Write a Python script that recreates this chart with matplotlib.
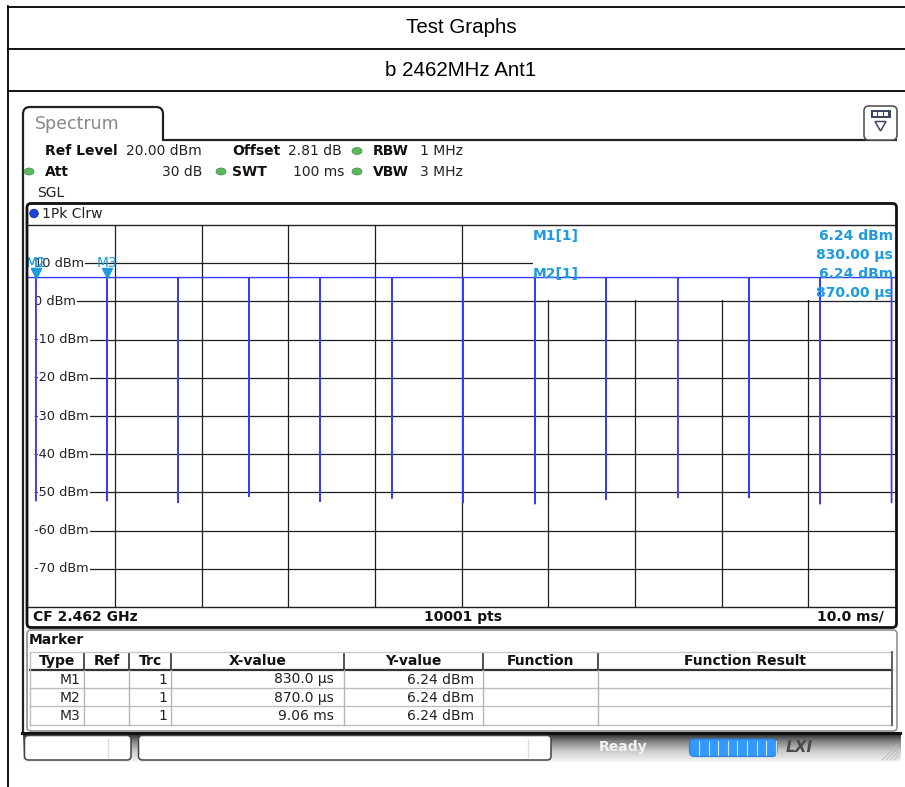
import numpy as np
import matplotlib
matplotlib.use('Agg')
import matplotlib.pyplot as plt
from matplotlib.patches import Rectangle, FancyBboxPatch, Ellipse, Circle, Polygon, PathPatch
from matplotlib.path import Path
from matplotlib.colors import LinearSegmentedColormap

# ---------------- data ----------------
title_text = "Test Graphs"
subtitle_text = "b 2462MHz Ant1"

trace_level_dbm = 6.24
spike_times_ms = [0.85, 9.06, 17.27, 25.46, 33.66, 41.95, 50.15, 58.44, 66.64, 74.93, 83.13, 91.33, 99.60]
spike_min_dbm = [-52.3, -52.3, -52.8, -51.2, -52.5, -51.6, -52.8, -53.1, -52.0, -51.5, -51.5, -53.1, -52.8]

marker_names = ["M1", "M2", "M3"]
marker_x_ms = [0.83, 0.87, 9.06]
marker_y_dbm = [6.24, 6.24, 6.24]
marker_x_text = ["830.0 µs", "870.0 µs", "9.06 ms"]
marker_y_text = ["6.24 dBm", "6.24 dBm", "6.24 dBm"]
marker_trc = ["1", "1", "1"]

y_tick_values = [10, 0, -10, -20, -30, -40, -50, -60, -70]
x_grid_ms = [10, 20, 30, 40, 50, 60, 70, 80, 90]
x_span_ms = (0, 100)
y_span_dbm = (-80, 20)

table_headers = ["Type", "Ref", "Trc", "X-value", "Y-value", "Function", "Function Result"]

# ---------------- figure ----------------
W, H = 905, 787
fig = plt.figure(figsize=(W / 100, H / 100), dpi=100)
fig.patch.set_facecolor('white')

ax_bg = fig.add_axes([0, 0, 1, 1], zorder=0)
ax_bg.set_xlim(0, W); ax_bg.set_ylim(H, 0); ax_bg.axis('off')

px_l, px_r, px_t, px_b = 28.4, 895.0, 225.0, 607.0
ax = fig.add_axes([px_l / W, (H - px_b) / H, (px_r - px_l) / W, (px_b - px_t) / H], zorder=1)

ax_fg = fig.add_axes([0, 0, 1, 1], zorder=2)
ax_fg.set_xlim(0, W); ax_fg.set_ylim(H, 0); ax_fg.axis('off')
ax_fg.patch.set_alpha(0)

MC = '#1e9be0'   # marker colour
TC = '#3a3aff'   # trace colour


def T(a, x, y, s, **kw):
    kw.setdefault('va', 'center')
    kw.setdefault('fontsize', 10)
    kw.setdefault('color', '#111111')
    return a.text(x, y, s, **kw)


# ---------------- outer document table ----------------
for yy in [6.5, 48.5, 90.5]:
    ax_bg.plot([7, 905], [yy, yy], color='black', lw=1.3, solid_capstyle='butt')
ax_bg.plot([7.5, 7.5], [6, 787], color='black', lw=1.3)
T(ax_bg, 461, 27.5, title_text, ha='center', fontsize=14.8, family='Liberation Sans', color='black')
T(ax_bg, 461, 70, subtitle_text, ha='center', fontsize=14.8, family='Liberation Sans', color='black')

# ---------------- window / tab ----------------
r = 7
verts = [(23, 732), (23, 107 + r), (23, 107), (23 + r, 107), (163 - r, 107), (163, 107), (163, 107 + r),
         (163, 140), (897, 140)]
codes = [Path.MOVETO, Path.LINETO, Path.CURVE3, Path.CURVE3, Path.LINETO, Path.CURVE3, Path.CURVE3,
         Path.LINETO, Path.LINETO]
ax_bg.add_patch(PathPatch(Path(verts, codes), fc='none', ec='#222222', lw=1.6))
T(ax_bg, 35, 124, "Spectrum", ha='left', fontsize=12.5, color='#888888')

# icon top right
ax_bg.add_patch(FancyBboxPatch((864, 106), 33, 34, boxstyle='round,pad=0,rounding_size=5',
                               fc='white', ec='#555555', lw=1.2))
ax_bg.add_patch(Rectangle((870.5, 110), 20, 7.5, fc='#3d4660', ec='none'))
for sx in [872.5, 878.3, 884.1]:
    ax_bg.add_patch(Rectangle((sx, 111.8), 4.2, 4, fc='white', ec='none'))
ax_bg.add_patch(Polygon([(875, 121.5), (886, 121.5), (880.5, 131)], closed=True, fc='white', ec='#3d4660', lw=1.1))

# ---------------- header settings ----------------
GREEN = '#5cb85c'
def dot(x, y):
    ax_bg.add_patch(Ellipse((x, y), 10, 7, fc=GREEN, ec='#3f8f3f', lw=0.5))

T(ax_bg, 45, 151, "Ref Level", ha='left', weight='bold')
T(ax_bg, 126, 151, "20.00 dBm", ha='left', color='#222222')
T(ax_bg, 232, 151, "Offset", ha='left', weight='bold')
T(ax_bg, 288, 151, "2.81 dB", ha='left', color='#222222')
dot(357, 151)
T(ax_bg, 373, 151, "RBW", ha='left', weight='bold')
T(ax_bg, 420, 151, "1 MHz", ha='left', color='#222222')

dot(29, 171.5)
T(ax_bg, 45, 171.5, "Att", ha='left', weight='bold')
T(ax_bg, 202, 171.5, "30 dB", ha='right', color='#222222')
dot(221, 171.5)
T(ax_bg, 232, 171.5, "SWT", ha='left', weight='bold')
T(ax_bg, 344, 171.5, "100 ms", ha='right', color='#222222')
dot(357, 171.5)
T(ax_bg, 373, 171.5, "VBW", ha='left', weight='bold')
T(ax_bg, 420, 171.5, "3 MHz", ha='left', color='#222222')

T(ax_bg, 37, 193, "SGL", ha='left', color='#222222')

# ---------------- diagram frame ----------------
ax_fg.add_patch(FancyBboxPatch((27, 203.5), 869.5, 424, boxstyle='round,pad=0,rounding_size=4',
                               fc='none', ec='#111111', lw=2.0))
ax_bg.add_patch(Circle((34, 213.5), 4.3, fc='#1f3fe0', ec='#102090', lw=0.5))
T(ax_bg, 42, 213.5, "1Pk Clrw", ha='left', color='#222222')

T(ax_bg, 33, 617, "CF 2.462 GHz", ha='left', weight='bold')
T(ax_bg, 463, 617, "10001 pts", ha='center', weight='bold')
T(ax_bg, 884, 617, "10.0 ms/", ha='right', weight='bold')

# ---------------- main plot ----------------
ax.set_xlim(*x_span_ms)
ax.set_ylim(*y_span_dbm)
ax.set_xticks([]); ax.set_yticks([])
for s in ['left', 'right']:
    ax.spines[s].set_visible(False)
for s in ['top', 'bottom']:
    ax.spines[s].set_color('#222222'); ax.spines[s].set_linewidth(1.0)

GRIDC = '#1e1e1e'
for xv in x_grid_ms:
    ax.axvline(xv, color=GRIDC, lw=0.9, zorder=1)
ax.hlines(y_tick_values, 0.7, x_span_ms[1], color=GRIDC, lw=0.9, zorder=1)

# marker info box covering the grid in the upper right
ax.add_patch(Rectangle((58.2, 0.35), 41.8, 19.65, fc='white', ec='none', zorder=2))

for yv in y_tick_values:
    ax.text(0.6, yv, f"{yv} dBm", ha='left', va='center', fontsize=9.3, color='#222222', zorder=2.5,
            bbox=dict(boxstyle='square,pad=0.12', fc='white', ec='none'))

# trace
tt = [x_span_ms[0]]
yy = [trace_level_dbm]
for ts, mn in zip(spike_times_ms, spike_min_dbm):
    tt += [ts - 0.01, ts, ts + 0.01]
    yy += [trace_level_dbm, mn, trace_level_dbm]
tt.append(x_span_ms[1]); yy.append(trace_level_dbm)
ax.plot(tt, yy, color=TC, lw=1.0, zorder=3, solid_joinstyle='miter')

# markers
ax.plot(marker_x_ms, marker_y_dbm, linestyle='none', marker='v', markersize=7.5,
        color=MC, markeredgecolor=MC, zorder=4,
        transform=matplotlib.transforms.offset_copy(ax.transData, fig=fig, x=0, y=4.5, units='dots'))
for nm, xv, yv in zip(marker_names, marker_x_ms, marker_y_dbm):
    ax.annotate(nm, (xv, yv), xytext=(0, 15), textcoords='offset pixels', ha='center', va='center',
                fontsize=10, color=MC, zorder=5, annotation_clip=False)

# marker info text
T(ax_fg, 533, 236, f"{marker_names[0]}[1]", ha='left', color=MC, weight='bold')
T(ax_fg, 893, 236, marker_y_text[0], ha='right', color=MC, weight='bold')
T(ax_fg, 893, 254.5, "830.00 µs", ha='right', color=MC, weight='bold')
T(ax_fg, 533, 273.5, f"{marker_names[1]}[1]", ha='left', color=MC, weight='bold')
T(ax_fg, 893, 273.5, marker_y_text[1], ha='right', color=MC, weight='bold')
T(ax_fg, 893, 292.5, "870.00 µs", ha='right', color=MC, weight='bold')

# ---------------- marker table ----------------
ax_bg.add_patch(FancyBboxPatch((27, 630), 870, 101, boxstyle='round,pad=0,rounding_size=4',
                               fc='white', ec='#9a9a9a', lw=1.3))
T(ax_bg, 28.5, 640.5, "Marker", ha='left', weight='bold')

col_edges = [30, 84, 129, 171, 344, 483, 598, 892]
hdr_top, hdr_bot = 652, 670
row_lines = [688, 706, 724.5]
ax_bg.plot([30, 892], [hdr_top, hdr_top], color='#c8c8c8', lw=1)
ax_bg.plot([30, 892], [hdr_bot, hdr_bot], color='#333333', lw=1.6)
for yl in row_lines:
    ax_bg.plot([30, 892], [yl, yl], color='#bdbdbd', lw=1)
for i, xe in enumerate(col_edges):
    if 0 < i < len(col_edges) - 1:
        ax_bg.plot([xe, xe], [hdr_top + 2, hdr_bot], color='#333333', lw=1.2)
        ax_bg.plot([xe, xe], [hdr_bot, row_lines[-1]], color='#b5b5b5', lw=1)
ax_bg.plot([30, 30], [hdr_top, row_lines[-1]], color='#bdbdbd', lw=1)
ax_bg.plot([892, 892], [hdr_top, row_lines[-1]], color='#555555', lw=1.3)

for i, h in enumerate(table_headers):
    xc = 0.5 * (col_edges[i] + col_edges[i + 1])
    T(ax_bg, xc, 661, h, ha='center', weight='bold')

row_y = [679.5, 698, 716.5]
for i in range(3):
    T(ax_bg, 80, row_y[i], marker_names[i], ha='right', color='#222222')
    T(ax_bg, 167, row_y[i], marker_trc[i], ha='right', color='#222222')
    T(ax_bg, 334, row_y[i], marker_x_text[i], ha='right', color='#222222')
    T(ax_bg, 474, row_y[i], marker_y_text[i], ha='right', color='#222222')

# ---------------- status bar ----------------
cmap = LinearSegmentedColormap.from_list('sb', [(0, '#1e1e1e'), (0.25, '#7a7a7a'), (0.6, '#c8c8c8'), (1, '#f5f5f5')])
grad = np.linspace(0, 1, 64).reshape(-1, 1)
ax_bg.imshow(grad, extent=(23, 900, 762, 733), aspect='auto', cmap=cmap, zorder=1, interpolation='bilinear')
ax_bg.plot([22, 900], [732.5, 732.5], color='#111111', lw=2.2, zorder=2)
ax_bg.set_xlim(0, W); ax_bg.set_ylim(H, 0)

ax_bg.add_patch(FancyBboxPatch((24.5, 735.5), 106.5, 24.5, boxstyle='round,pad=0,rounding_size=4',
                               fc='white', ec='#444444', lw=1.1, zorder=3))
ax_bg.plot([108, 108], [739, 757], color='#dddddd', lw=1, zorder=4)
ax_bg.add_patch(FancyBboxPatch((138.5, 735.5), 412.5, 24.5, boxstyle='round,pad=0,rounding_size=4',
                               fc='white', ec='#444444', lw=1.1, zorder=3))
ax_bg.plot([528, 528], [739, 757], color='#dddddd', lw=1, zorder=4)

T(ax_bg, 599, 747.5, "Ready", ha='left', weight='bold', color='#f2f2f2', fontsize=10, zorder=4)
ax_bg.add_patch(FancyBboxPatch((689.5, 739), 87.5, 17.5, boxstyle='round,pad=0,rounding_size=5',
                               fc='#3399ff', ec='#2a7fd8', lw=0.8, zorder=4))
for sx in np.arange(699, 776, 9.6):
    ax_bg.plot([sx, sx], [740.5, 755], color='#cfe6ff', lw=0.8, zorder=5)
T(ax_bg, 786, 747.5, "LXI", ha='left', weight='bold', style='italic', color='#4a4a4a', fontsize=11, zorder=4)
for k in range(5):
    ax_bg.plot([882 + 4 * k, 898], [760, 744 + 4 * k], color='#bbbbbb', lw=0.7, zorder=4)

fig.savefig('out.png', dpi=100)
